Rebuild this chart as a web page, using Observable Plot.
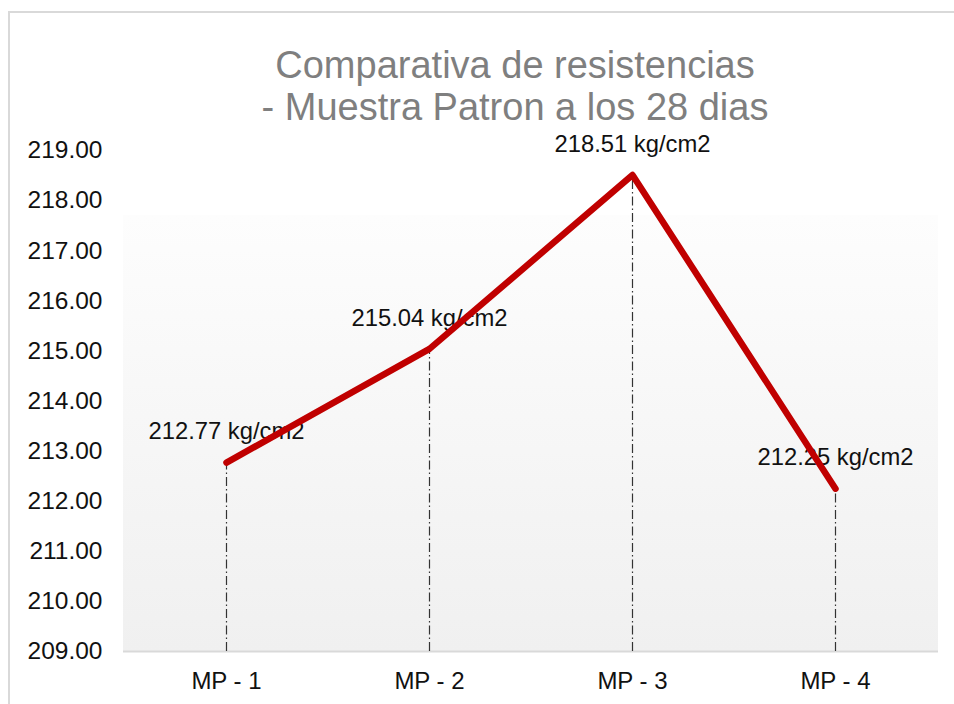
<!DOCTYPE html>
<html>
<head>
<meta charset="utf-8">
<script src="https://cdn.jsdelivr.net/npm/d3@7"></script>
<script src="https://cdn.jsdelivr.net/npm/@observablehq/plot@0.6"></script>
<style>
  html, body { margin: 0; padding: 0; background: #fff; }
  #wrap { position: relative; width: 954px; height: 704px; overflow: hidden; font-family: "Liberation Sans", Arial, sans-serif; }
  #border { position: absolute; left: 8px; top: 11px; width: 1200px; height: 1200px; border: 2px solid #d9d9d9; box-sizing: border-box; }
  #title { position: absolute; left: 165px; width: 700px; top: 44px; text-align: center; color: #7f7f7f; font-size: 38px; line-height: 42px; }
  #chart { position: absolute; left: 0; top: 0; }
</style>
</head>
<body>
<div id="wrap">
  <div id="border"></div>
  <div id="chart"></div>
  <div id="title">Comparativa de resistencias<br>- Muestra Patron a los 28 dias</div>
</div>
<script>
const categories = ["MP - 1", "MP - 2", "MP - 3", "MP - 4"];
const values = [212.77, 215.04, 218.51, 212.25];
const labels = ["212.77 kg/cm2", "215.04 kg/cm2", "218.51 kg/cm2", "212.25 kg/cm2"];
const yTicks = [209, 210, 211, 212, 213, 214, 215, 216, 217, 218, 219];
const yMin = 209, yMax = 219;
const bgTop = 217.7;

const data = categories.map((c, i) => ({cat: c, val: values[i], label: labels[i]}));

const plot = Plot.plot({
  width: 954,
  height: 704,
  marginLeft: 123,
  marginRight: 16,
  marginTop: 150,
  marginBottom: 53,
  style: {fontFamily: "'Liberation Sans', Arial, sans-serif", fontSize: "24px", color: "#111", background: "transparent", overflow: "visible"},
  x: {type: "point", domain: categories, padding: 0.5, align: 0.5, label: null},
  y: {domain: [yMin, yMax], label: null},
  marks: [
    Plot.rect([0], {y1: () => yMin, y2: () => bgTop, fill: "url(#bggrad)"}),
    Plot.ruleY([yMin], {stroke: "#d9d9d9", strokeWidth: 2}),
    Plot.axisY({ticks: yTicks, tickSize: 0, tickPadding: 21, tickFormat: d => d.toFixed(2), label: null, fontSize: 24.5}),
    Plot.axisX({tickSize: 0, tickPadding: 20, label: null, fontSize: 24}),
    Plot.ruleX(data, {x: "cat", y1: () => yMin, y2: "val", stroke: "#333", strokeWidth: 1.2, strokeDasharray: "9,3,1.5,3"}),
    Plot.text(data, {x: "cat", y: "val", text: "label", dy: -31, fontSize: 23.8, fill: "#111"}),
    Plot.line(data, {x: "cat", y: "val", stroke: "#c00000", strokeWidth: 6.5, strokeLinecap: "round", strokeLinejoin: "round"})
  ]
});

const defs = d3.select(plot).insert("defs", ":first-child");
const g = defs.append("linearGradient").attr("id", "bggrad").attr("x1", 0).attr("y1", 0).attr("x2", 0).attr("y2", 1);
g.append("stop").attr("offset", "0%").attr("stop-color", "#fdfdfd");
g.append("stop").attr("offset", "100%").attr("stop-color", "#f0f0f0");

document.getElementById("chart").appendChild(plot);
</script>
</body>
</html>
